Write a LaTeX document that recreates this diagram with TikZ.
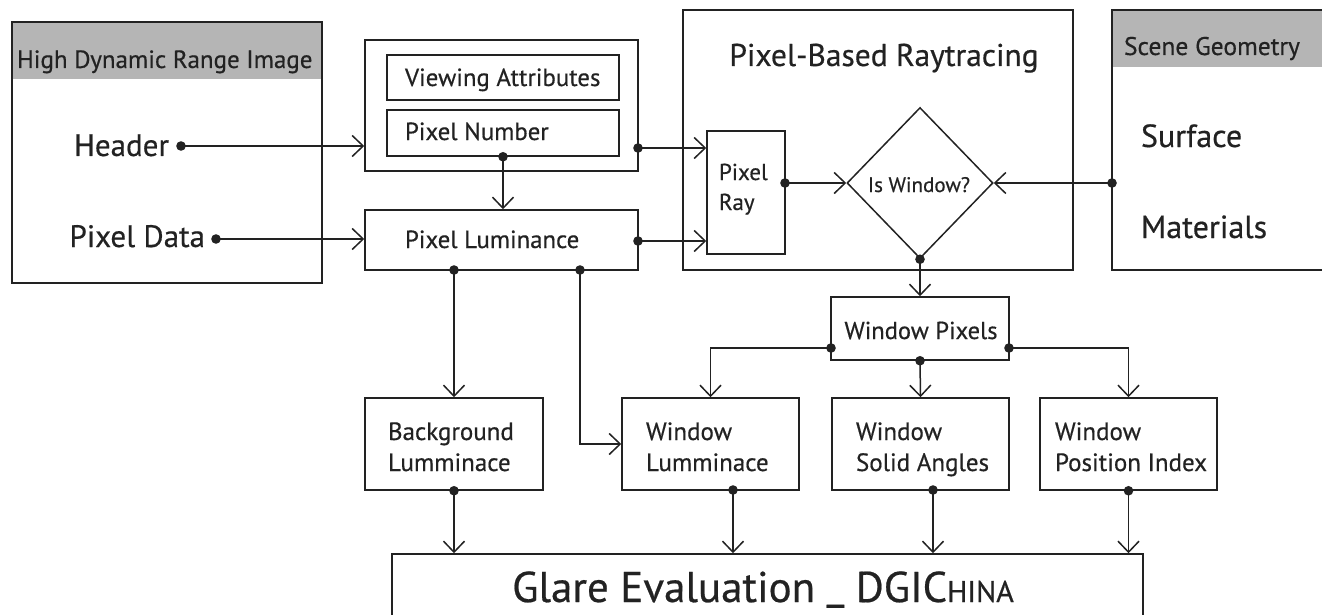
\documentclass[tikz,border=0pt]{standalone}
\usepackage{fontspec}
\setmainfont{PT Sans}[FakeBold=0.5]
\usetikzlibrary{arrows.meta,shapes.geometric}
\definecolor{linec}{HTML}{222222}
\definecolor{bandc}{HTML}{B5B5B5}
\tikzset{
  box/.style={draw=linec, line width=1.5pt, inner sep=0pt, rectangle},
  txt/.style={inner sep=0pt, outer sep=0pt, text=linec},
  arr/.style={draw=linec, line width=1.5pt, -{Straight Barb[length=11pt,width=21pt,line width=1.5pt]}},
  dotc/.style={fill=linec},
}
\newcommand{\fs}[1]{\fontsize{#1}{#1}\selectfont}
\begin{document}
\begin{tikzpicture}[x=1pt,y=-1pt]
\useasboundingbox (0,0) rectangle (1322,615);
% HDR box
\fill[bandc] (12,22) rectangle (322,79);
\node[box, minimum width=310, minimum height=261] (hdr) at (167,152.5) {};
\node[txt, anchor=base west, font=\fs{25}] (hdrt) at (17,68) {High Dynamic Range Image};
\node[txt, anchor=base east, font=\fs{31}] (hd) at (169,156) {Header};
\node[txt, anchor=base east, font=\fs{31}] (pd) at (205,247) {Pixel Data};
\coordinate (hdot) at (181,146);
\coordinate (pdot) at (216,239);
% group
\node[box, minimum width=273, minimum height=131] (grp) at (501.5,105.5) {};
\node[box, minimum width=232, minimum height=45] (va) at (503,77.5) {};
\node[box, minimum width=232, minimum height=46] (pn) at (503,133) {};
\node[box, minimum width=273, minimum height=60] (pl) at (501.5,240) {};
\node[txt, anchor=base west, font=\fs{24.8}] (vat) at (405,86) {Viewing Attributes};
\node[txt, anchor=base west, font=\fs{24.8}] (pnt) at (405,140) {Pixel Number};
\node[txt, anchor=base west, font=\fs{24.8}] (plt) at (405,248) {Pixel Luminance};
% raytracing
\node[box, minimum width=390, minimum height=260] (rt) at (878,140) {};
\node[txt, anchor=base, font=\fs{31.5}] (rtt) at (884,66) {Pixel-Based Raytracing};
\node[box, minimum width=78, minimum height=123] (pray) at (746,192.5) {};
\node[txt, anchor=base west, font=\fs{23}] (prt1) at (719,180) {Pixel};
\node[txt, anchor=base west, font=\fs{23}] (prt2) at (719,210) {Ray};
\node[draw=linec, line width=1.5pt, diamond, inner sep=0pt, minimum width=146, minimum height=151] (dia) at (920,183) {};
\node[txt, anchor=base, font=\fs{21}] (diat) at (919,192) {Is Window?};
% scene
\fill[bandc] (1112,10) rectangle (1345,67);
\node[box, minimum width=233, minimum height=260] (scene) at (1228.5,140) {};
\node[txt, anchor=base west, font=\fs{25.5}] (sgt) at (1124,55) {Scene Geometry};
\node[txt, anchor=base west, font=\fs{32}] (sft) at (1141,147) {Surface};
\node[txt, anchor=base west, font=\fs{32}] (mat) at (1141,238) {Materials};
% window pixels
\node[box, minimum width=178, minimum height=63] (wp) at (920,328.5) {};
\node[txt, anchor=base, font=\fs{24.5}] (wpt) at (921,339) {Window Pixels};
% bottom row
\node[box, minimum width=178, minimum height=92] (bg) at (454,444) {};
\node[box, minimum width=177, minimum height=92] (wl) at (710.5,444) {};
\node[box, minimum width=177, minimum height=92] (ws) at (920.5,444) {};
\node[box, minimum width=177, minimum height=92] (wpi) at (1128.5,444) {};
\node[txt, anchor=base west, font=\fs{25}] (bgt1) at (388,440) {Background};
\node[txt, anchor=base west, font=\fs{25}] (bgt2) at (388,471) {Lumminace};
\node[txt, anchor=base west, font=\fs{25}] (wlt1) at (646,440) {Window};
\node[txt, anchor=base west, font=\fs{25}] (wlt2) at (646,471) {Lumminace};
\node[txt, anchor=base west, font=\fs{25}] (wst1) at (856,440) {Window};
\node[txt, anchor=base west, font=\fs{25}] (wst2) at (856,471) {Solid Angles};
\node[txt, anchor=base west, font=\fs{25}] (wpit1) at (1055,440) {Window};
\node[txt, anchor=base west, font=\fs{25}] (wpit2) at (1055,471) {Position Index};
% glare
\node[box, minimum width=751, minimum height=90] (gl) at (767.5,599) {};
\node[txt, anchor=base, font=\fs{43}] (glt) at (763,602) {Glare Evaluation \raisebox{3pt}{\_} DGIC{\fs{30}HINA}};
% connectors
\draw[arr] (hdot) -- (hdot -| grp.west);
\draw[arr] (pdot) -- (pdot -| pl.west);
\draw[arr] (pn.south) -- (pn.south |- pl.north);
\coordinate (g1) at (638,148);
\coordinate (g2) at (638,241);
\draw[arr] (g1) -- (g1 -| pray.west);
\draw[arr] (g2) -- (g2 -| pray.west);
\coordinate (p1) at (785,183);
\draw[arr] (p1) -- (dia.west);
\coordinate (s1) at (1112,183);
\draw[arr] (s1) -- (dia.east);
\draw[arr] (dia.south) -- (wp.north);
\coordinate (w1) at (831,348);
\coordinate (w2) at (1009,348);
\draw[arr] (w1) -| (wl.north);
\draw[arr] (w2) -| (wpi.north);
\draw[arr] (wp.south) -- (ws.north);
\coordinate (l1) at (454,270);
\coordinate (l2) at (580,270);
\draw[arr] (l1) -- (bg.north);
\draw[arr] (l2) |- (wl.west);
\coordinate (b2) at (733,490);
\coordinate (b3) at (933,490);
\draw[arr] (bg.south) -- (bg.south |- gl.north);
\draw[arr] (b2) -- (b2 |- gl.north);
\draw[arr] (b3) -- (b3 |- gl.north);
\draw[arr] (wpi.south) -- (wpi.south |- gl.north);
% dots
\foreach \p in {hdot,pdot,pn.south,g1,g2,p1,s1,dia.south,w1,w2,wp.south,l1,l2,bg.south,b2,b3,wpi.south}
  \fill[dotc] (\p) circle[radius=4.8pt];
\end{tikzpicture}
\end{document}
